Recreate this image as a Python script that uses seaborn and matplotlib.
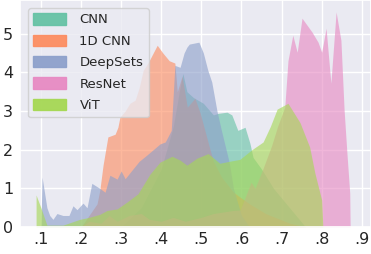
import matplotlib
matplotlib.use("Agg")
import matplotlib.pyplot as plt
from matplotlib.patches import Patch
import seaborn as sns

# polygons (x = score, y = density)
models = ["CNN", "1D CNN", "DeepSets", "ResNet", "ViT"]

cnn_x = [0.30, 0.35, 0.40, 0.43, 0.445, 0.454, 0.464, 0.48, 0.505, 0.53, 0.542, 0.564,
         0.576, 0.591, 0.609, 0.621, 0.629, 0.65, 0.68, 0.72, 0.76]
cnn_y = [0.0, 0.5, 1.5, 2.6, 3.5, 3.97, 3.5, 3.35, 3.2, 2.9, 2.94, 2.97,
         2.9, 2.5, 2.58, 2.17, 1.8, 1.5, 1.0, 0.5, 0.0]

cnn1d_x = [0.20, 0.22, 0.24, 0.247, 0.255, 0.267, 0.285, 0.292, 0.297, 0.31, 0.322, 0.335,
           0.345, 0.355, 0.367, 0.39, 0.404, 0.42, 0.434, 0.44, 0.452, 0.465, 0.484, 0.497,
           0.52, 0.53, 0.55, 0.58, 0.62, 0.66, 0.72, 0.76]
cnn1d_y = [0.0, 0.3, 0.6, 0.96, 1.6, 2.33, 2.4, 2.58, 2.84, 3.0, 3.2, 3.28,
           3.6, 4.05, 4.24, 4.7, 4.5, 4.3, 4.24, 3.5, 3.9, 3.1, 3.33, 2.95,
           2.07, 1.7, 1.3, 0.9, 0.6, 0.35, 0.1, 0.0]

deepsets_x = [0.10, 0.103, 0.115, 0.122, 0.13, 0.14, 0.155, 0.17, 0.18, 0.19, 0.205, 0.215,
              0.227, 0.247, 0.26, 0.272, 0.29, 0.30, 0.31, 0.327, 0.345, 0.364, 0.38, 0.397,
              0.41, 0.425, 0.434, 0.447, 0.457, 0.464, 0.47, 0.494, 0.505, 0.516, 0.526,
              0.539, 0.55, 0.57, 0.58, 0.60, 0.62]
deepsets_y = [0.0, 1.29, 0.5, 0.3, 0.2, 0.35, 0.3, 0.3, 0.55, 0.45, 0.62, 0.5,
              1.13, 1.0, 0.9, 1.34, 1.24, 1.45, 1.25, 1.47, 1.7, 1.86, 2.0, 2.15,
              2.2, 2.5, 4.18, 4.13, 4.5, 4.65, 4.73, 4.78, 4.5, 4.06, 3.75,
              3.0, 2.5, 1.65, 1.0, 0.3, 0.0]

resnet_x = [0.20, 0.22, 0.25, 0.27, 0.29, 0.32, 0.35, 0.37, 0.40, 0.43, 0.46, 0.50,
            0.53, 0.58, 0.597, 0.624, 0.634, 0.654, 0.675, 0.69, 0.708, 0.716, 0.728,
            0.739, 0.751, 0.776, 0.791, 0.80, 0.811, 0.823, 0.836, 0.848, 0.856, 0.863,
            0.87, 0.871]
resnet_y = [0.0, 0.15, 0.1, 0.3, 0.15, 0.3, 0.35, 0.2, 0.15, 0.25, 0.15, 0.25,
            0.35, 0.43, 0.44, 1.16, 1.0, 1.52, 2.1, 2.6, 3.1, 4.3, 4.96,
            4.52, 5.4, 5.04, 4.78, 4.52, 5.14, 3.72, 5.56, 4.83, 3.02, 1.91,
            0.88, 0.0]

vit_x = [0.088, 0.10, 0.115, 0.155, 0.197, 0.22, 0.247, 0.265, 0.29, 0.315, 0.342, 0.372,
         0.397, 0.427, 0.447, 0.464, 0.489, 0.517, 0.546, 0.57, 0.596, 0.626, 0.654, 0.672,
         0.689, 0.716, 0.746, 0.77, 0.783, 0.80, 0.803]
vit_y = [0.83, 0.5, 0.05, 0.05, 0.2, 0.25, 0.33, 0.43, 0.47, 0.65, 0.86, 1.37,
         1.68, 1.83, 1.73, 1.6, 1.78, 1.9, 1.65, 1.7, 1.75, 2.0, 2.2, 2.6,
         3.05, 3.2, 2.7, 2.07, 1.4, 0.7, 0.0]

xticks = [0.1, 0.2, 0.3, 0.4, 0.5, 0.6, 0.7, 0.8, 0.9]
xticklabels = [".1", ".2", ".3", ".4", ".5", ".6", ".7", ".8", ".9"]
yticks = [0, 1, 2, 3, 4, 5]

sns.set_theme(style="darkgrid")
colors = sns.color_palette("Set2", 5)

fig = plt.figure(figsize=(3.71, 2.54), dpi=100)
ax = fig.add_axes([0.054, 0.106, 0.946, 0.894])

curves = [(cnn_x, cnn_y), (cnn1d_x, cnn1d_y), (deepsets_x, deepsets_y),
          (resnet_x, resnet_y), (vit_x, vit_y)]
for (xs, ys), c in zip(curves, colors):
    ax.fill_between(xs, ys, 0, color=c, alpha=0.62, linewidth=0)

ax.set_xlim(0.048, 0.923)
ax.set_ylim(0, 5.87)
ax.set_xticks(xticks)
ax.set_xticklabels(xticklabels)
ax.set_yticks(yticks)
ax.tick_params(axis="both", labelsize=11.5, length=0)
ax.tick_params(axis="y", pad=5)

handles = [Patch(facecolor=c, edgecolor=c, alpha=0.95) for c in colors]
ax.legend(handles, models, loc="upper left", fontsize=9.5, handlelength=2.5,
          handleheight=0.95, handletextpad=1.0, labelspacing=0.62,
          borderaxespad=0.6, framealpha=0.8)

fig.savefig("out.png", dpi=100)
